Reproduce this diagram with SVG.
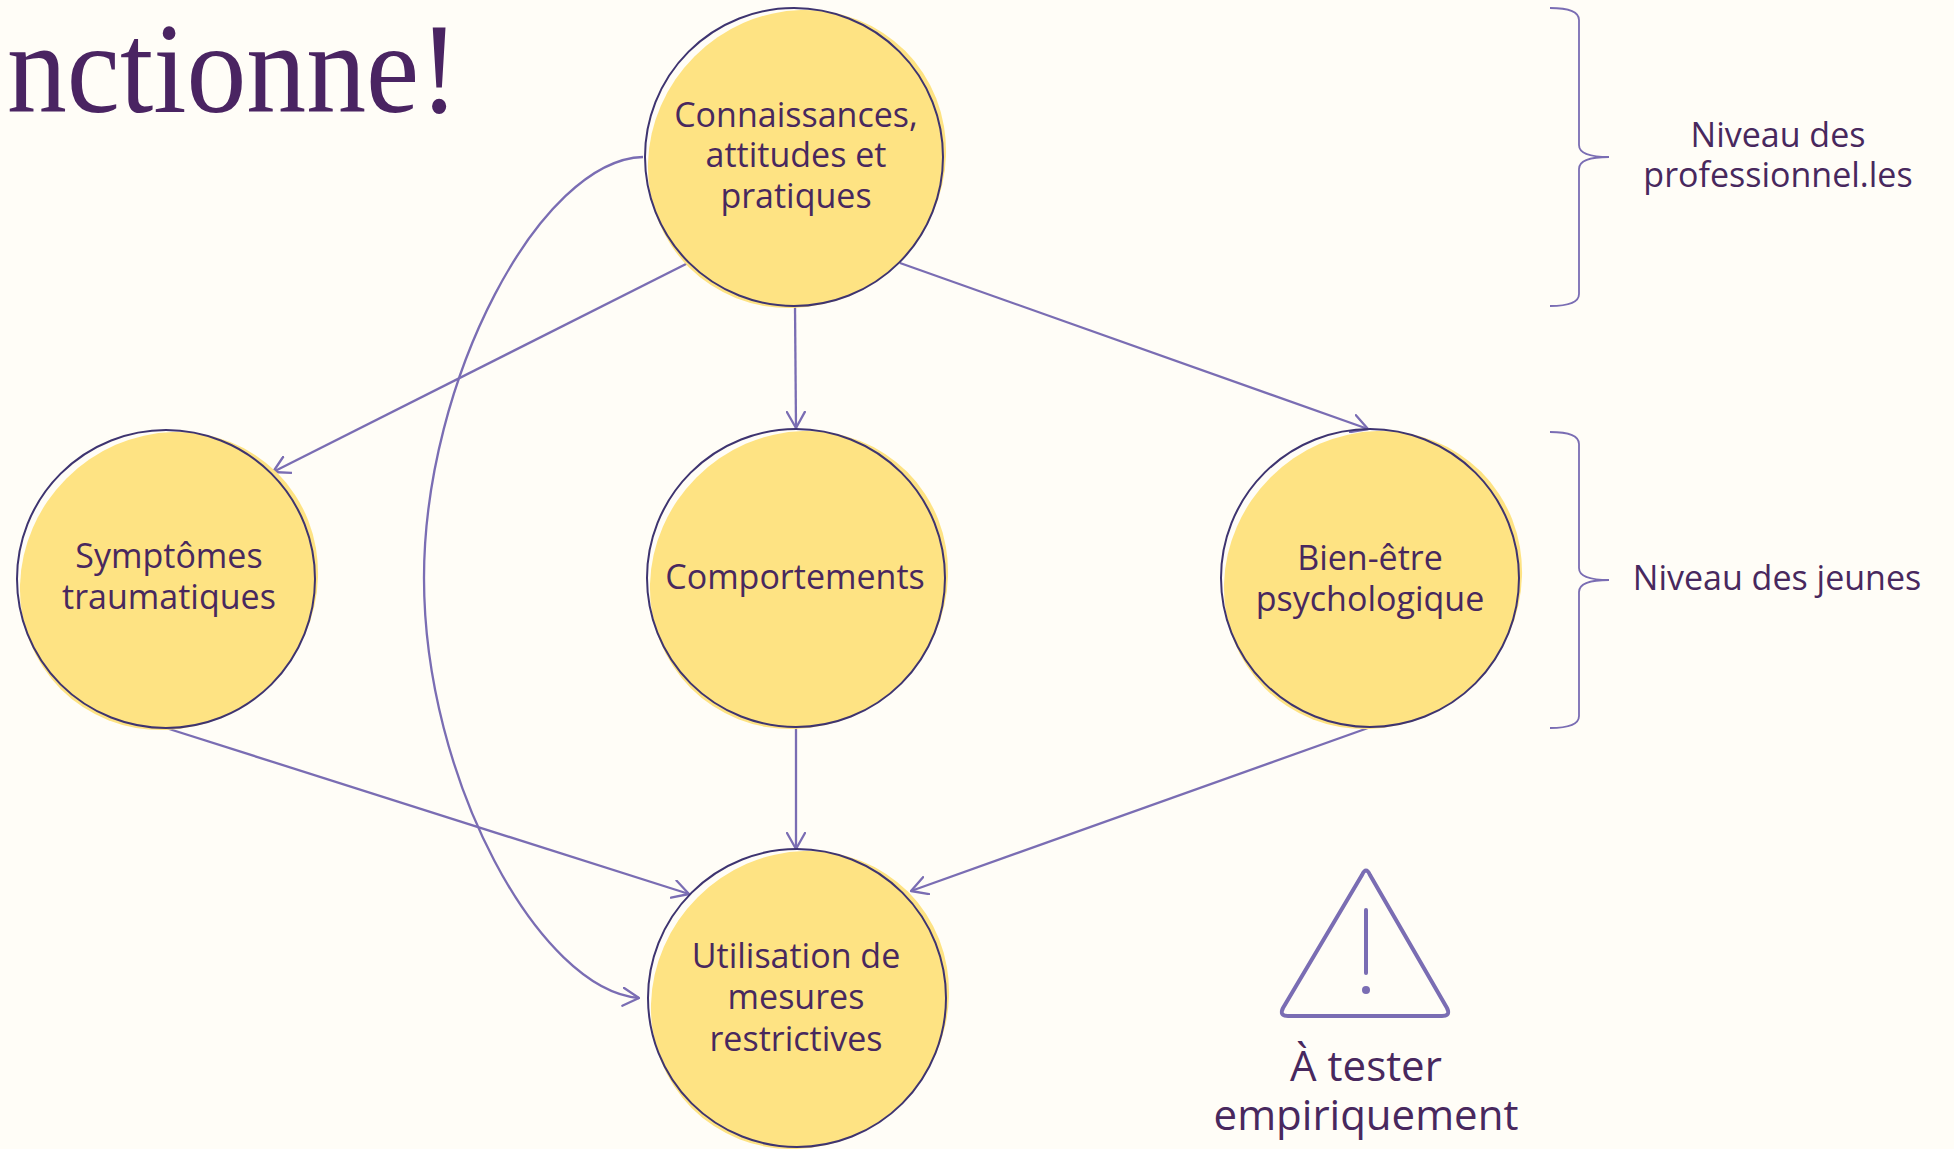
<svg xmlns="http://www.w3.org/2000/svg" width="1954" height="1149" viewBox="0 0 1954 1149">
<style>
.bg{fill:#fffdf7}
.fillc{fill:#fee383}
.outl{fill:none;stroke:#3e3470;stroke-width:2}
.lbl{font-family:"Open Sans","Noto Sans",sans-serif;font-size:34px;fill:#48285e;text-anchor:middle}
.conn{fill:none;stroke:#7a6db3;stroke-width:2.3}
.brace{fill:none;stroke:#7a6db3;stroke-width:1.8}
.title{font-family:"Liberation Serif",serif;font-size:130px;fill:#4a2462}
</style>
<defs>
<marker id="arr" viewBox="0 0 18 20" refX="17" refY="10" markerWidth="18" markerHeight="20" markerUnits="userSpaceOnUse" orient="auto">
<path d="M1,1 L17,10 L1,19" fill="none" stroke="#7a6db3" stroke-width="2.3" stroke-linecap="round" stroke-linejoin="round"/>
</marker>
</defs>
<rect class="bg" x="0" y="0" width="1954" height="1149"/>
<text class="title" x="7" y="112" textLength="452" lengthAdjust="spacingAndGlyphs">nctionne!</text>

<g id="connectors">
<line class="conn" x1="688" y1="263" x2="273" y2="472" marker-end="url(#arr)"/>
<line class="conn" x1="795" y1="306" x2="796" y2="428" marker-end="url(#arr)"/>
<line class="conn" x1="900" y1="263" x2="1368" y2="429" marker-end="url(#arr)"/>
<line class="conn" x1="166" y1="728" x2="689" y2="894" marker-end="url(#arr)"/>
<line class="conn" x1="796" y1="728" x2="796" y2="849" marker-end="url(#arr)"/>
<line class="conn" x1="1368" y1="728" x2="911" y2="891" marker-end="url(#arr)"/>
<path class="conn" d="M643,157 C540,160 424,380 424,578 C424,780 540,990 639,998" marker-end="url(#arr)"/>
</g>

<g id="node-connaissances">
<ellipse class="fillc" cx="797" cy="159" rx="153" ry="145" transform="rotate(-45 797 159)"/>
<circle class="outl" cx="794" cy="157" r="149"/>
<text class="lbl" x="796" y="127">Connaissances,</text>
<text class="lbl" x="796" y="167">attitudes et</text>
<text class="lbl" x="796" y="208">pratiques</text>
</g>

<g id="node-symptomes">
<ellipse class="fillc" cx="169" cy="581" rx="153" ry="145" transform="rotate(-45 169 581)"/>
<circle class="outl" cx="166" cy="579" r="149"/>
<text class="lbl" x="169" y="568">Symptômes</text>
<text class="lbl" x="169" y="609">traumatiques</text>
</g>

<g id="node-comportements">
<ellipse class="fillc" cx="799" cy="580" rx="153" ry="145" transform="rotate(-45 799 580)"/>
<circle class="outl" cx="796" cy="578" r="149"/>
<text class="lbl" x="795" y="589">Comportements</text>
</g>

<g id="node-bienetre">
<ellipse class="fillc" cx="1373" cy="580" rx="153" ry="145" transform="rotate(-45 1373 580)"/>
<circle class="outl" cx="1370" cy="578" r="149"/>
<text class="lbl" x="1370" y="570">Bien-être</text>
<text class="lbl" x="1370" y="611">psychologique</text>
</g>

<g id="node-utilisation">
<ellipse class="fillc" cx="800" cy="1000" rx="153" ry="145" transform="rotate(-45 800 1000)"/>
<circle class="outl" cx="797" cy="998" r="149"/>
<text class="lbl" x="796" y="968">Utilisation de</text>
<text class="lbl" x="796" y="1009">mesures</text>
<text class="lbl" x="796" y="1051">restrictives</text>
</g>

<g id="brace-professionnels">
<path class="brace" d="M1550,8 Q1579,8 1579,20 L1579,145 Q1579,157 1609,157 Q1579,157 1579,169 L1579,294 Q1579,306 1550,306"/>
<text class="lbl" x="1778" y="147">Niveau des</text>
<text class="lbl" x="1778" y="187">professionnel.les</text>
</g>

<g id="brace-jeunes">
<path class="brace" d="M1550,432 Q1579,432 1579,444 L1579,568 Q1579,580 1609,580 Q1579,580 1579,592 L1579,716 Q1579,728 1550,728"/>
<text class="lbl" x="1777" y="590">Niveau des jeunes</text>
</g>

<g id="warning">
<path d="M1362,875 Q1366,866 1370,875 L1447,1008 Q1451,1016 1442,1016 L1288,1016 Q1279,1016 1283,1008 Z" fill="none" stroke="#7a6db3" stroke-width="4" stroke-linejoin="round"/>
<line x1="1366" y1="910" x2="1366" y2="973" stroke="#7a6db3" stroke-width="4" stroke-linecap="round"/>
<circle cx="1366" cy="990" r="4" fill="#7a6db3"/>
<text class="lbl" x="1366" y="1081" style="font-size:42px">À tester</text>
<text class="lbl" x="1366" y="1130" style="font-size:42px">empiriquement</text>
</g>
</svg>
